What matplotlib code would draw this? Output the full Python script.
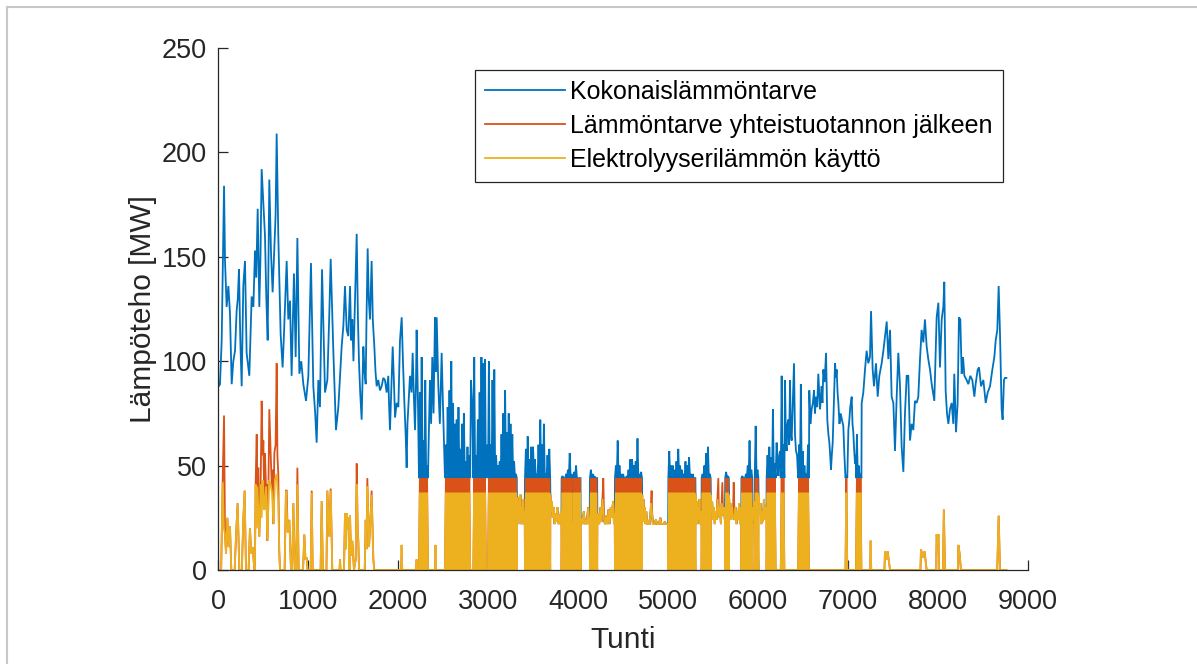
import matplotlib
matplotlib.use("Agg")
import matplotlib.pyplot as plt
from matplotlib.lines import Line2D

# värit (MATLABin oletusvärit)
sininen = "#0072BD"
oranssi = "#D95319"
keltainen = "#EDB120"

# --- kokonaislämmöntarve, (tunti, MW) luettu kuvasta ---
kok_talvi = [(0,91),(10,88),(22,89),(41,110),(55,150),(67,184),(78,148),(96,126),(115,136),(133,123),(152,89),
    (170,100),(189,105),(207,124),(220,130),(233,144),(248,110),(263,88),(281,136),(300,148),(318,104),(348,93),
    (360,110),(374,131),(393,126),(411,153),(425,140),(441,173),(459,126),(472,150),(485,192),(504,176),(522,160),
    (537,130),(552,110),(570,187),(589,152),(607,133),(626,155),(640,170),(652,209),(670,160),(696,113),(718,97),
    (733,113),(763,148),(781,120),(800,129),(818,93),(844,142),(863,102),(882,159),(904,94),(925,100),(948,89),
    (978,81),(1004,93),(1033,147),(1059,88),(1080,75),(1096,61),(1115,91),(1133,78),(1156,144),(1189,85),(1215,91),
    (1235,120),(1252,149),(1282,104),(1311,67),(1337,78),(1374,107),(1393,117),(1411,136),(1430,115),(1448,112),
    (1467,136),(1480,110),(1492,120),(1505,100),(1520,125),(1541,161),(1555,120),(1567,99),(1580,85),(1596,72),
    (1615,107),(1628,95),(1641,89),(1650,120),(1663,154),(1675,130),(1689,120),(1698,135),(1707,148),(1720,120),
    (1737,107),(1750,95),(1763,88),(1781,91),(1800,86),(1818,88),(1837,92),(1855,91),(1874,85),(1892,93),(1900,80),
    (1911,67),(1925,85),(1941,107),(1955,90),(1967,73),(1985,80),(2004,78),(2022,110),(2041,121),(2055,100),
    (2070,81),(2085,65),(2096,49),(2105,70),(2115,78),(2133,93),(2150,85),(2163,104),(2175,85),(2189,67),(2200,90),
    (2207,115),(2222,80)]

kok_kesa = [(2233,44),(2243,85),(2253,44),(2263,102),(2273,44),(2283,62),(2293,44),(2303,91),(2313,44),(2323,50),(2333,44),
    (2340,60),(2355,91),(2368,70),(2381,102),(2395,75),(2411,121),(2420,95),(2430,121),(2448,88),(2465,70),(2485,104),
    (2500,78),(2512,60),
    (2522,44),(2532,60),(2542,44),(2552,78),(2562,44),(2572,86),(2582,44),(2592,100),(2602,44),(2612,80),(2622,44),
    (2632,70),(2642,44),(2652,72),(2662,44),(2672,78),(2682,44),(2692,58),(2702,44),(2712,70),(2722,44),(2732,75),
    (2742,44),(2752,52),(2762,44),(2772,59),(2782,44),(2792,55),(2802,44),(2811,91),(2825,80),
    (2837,44),(2847,102),(2857,44),(2867,55),(2877,44),(2887,72),(2897,44),(2907,85),(2917,44),(2927,102),(2937,44),
    (2947,99),(2957,44),(2967,101),(2977,44),(2988,60),
    (3000,44),(3010,100),(3020,44),(3030,60),(3040,44),(3050,91),(3060,44),(3070,96),(3080,44),(3090,55),(3100,44),
    (3110,50),(3120,44),(3130,52),(3140,44),(3150,65),(3160,44),(3170,75),(3180,44),(3190,86),(3200,44),(3210,66),
    (3220,44),(3230,75),(3240,44),(3250,70),(3260,44),(3270,65),(3280,44),(3290,52),(3300,44),(3310,46),(3320,44),
    (3411,44),(3421,58),(3431,44),(3441,64),(3451,44),(3461,53),(3471,44),(3481,59),(3491,44),(3501,59),(3511,44),
    (3521,53),(3531,44),(3541,46),(3551,44),(3561,60),(3571,44),(3581,72),(3591,44),(3601,60),(3611,44),(3621,70),
    (3631,44),(3641,46),(3651,44),(3661,55),(3671,44),(3681,58),(3691,44),
    (3818,44),(3828,45),(3838,44),(3848,44),(3858,44),(3868,46),(3878,44),(3888,48),(3898,44),(3908,56),(3918,44),
    (3928,46),(3938,44),
    (3948,44),(3958,47),(3968,44),(3978,50),(3988,44),(3998,44),(4008,44),(4018,44),(4028,44),
    (4133,44),(4143,48),(4153,44),(4163,46),(4173,44),(4183,45),(4193,44),(4203,44),(4213,44),
    (4411,44),(4421,50),(4431,44),(4441,62),(4451,44),(4461,50),(4471,44),(4481,46),(4491,44),(4501,46),(4511,44),
    (4521,44),(4531,44),(4541,45),(4551,44),(4561,48),(4571,44),(4581,53),(4591,44),(4601,53),(4611,44),(4621,50),
    (4631,44),(4641,52),(4651,44),(4661,63),(4671,44),(4681,46),(4691,44),(4701,47),(4711,44),
    (5004,44),(5014,57),(5024,44),(5034,50),(5044,44),(5054,50),(5064,44),(5074,48),(5084,44),(5094,52),(5104,44),
    (5114,58),(5124,44),(5134,50),(5144,44),(5154,48),(5164,44),(5174,46),(5184,44),(5194,52),(5204,44),(5214,50),
    (5224,44),(5234,54),(5244,44),(5254,46),(5264,44),(5274,46),(5284,44),(5294,44),(5304,44),
    (5374,44),(5384,46),(5394,44),(5404,50),(5414,44),(5424,56),(5434,44),(5444,59),(5454,44),(5464,46),(5474,44),
    (5636,44),(5646,47),(5656,44),(5666,45),(5676,44),
    (5816,44),(5826,45),(5836,44),(5846,44),(5856,44),(5866,46),(5876,44),(5886,50),(5896,44),(5906,62),(5916,44),
    (5926,48),(5936,44),
    (5964,44),(5974,69),(5984,44),(5994,48),(6004,44),
    (6096,44),(6106,55),(6116,44),(6126,59),(6136,44),(6146,54),(6156,44),(6166,77),(6176,44),(6186,51),(6196,44),
    (6207,61),(6217,50),(6226,45),(6235,55),(6244,57),
    (6253,44),(6263,93),(6273,44),(6283,60),(6293,44),
    (6300,91),(6310,62),(6318,57),(6328,70),(6337,72),(6346,60),(6356,91),(6365,65),(6374,62),(6387,80),(6400,99),
    (6411,65),(6422,57),(6434,55),
    (6446,44),(6456,60),(6466,44),(6476,89),(6486,44),(6496,57),(6506,44),(6516,50),(6526,44),(6536,46),(6546,44),
    (6556,60),(6566,44),
    (6570,86),(6582,70),(6596,77),(6610,80),(6622,86),(6633,75),(6644,83),(6658,78),(6670,94),(6680,85),(6689,77),
    (6698,82),(6707,88),(6716,80),(6726,96),(6740,90),(6756,104),(6770,72),(6782,65),(6793,61),(6802,55),(6811,48),
    (6820,55),(6830,61),(6843,80),(6856,99),(6865,92),(6874,96),(6884,85),(6893,80),(6905,70),(6919,75),(6932,72),
    (6948,69),(6960,55),
    (6972,44),(6982,45),(6992,44),
    (7004,67),(7015,72),(7025,78),(7041,83),(7050,70),(7059,66),(7068,58),(7078,51),(7087,55),
    (7089,44),(7099,65),(7109,44),(7119,50),(7129,44),(7139,46),(7149,44)]

kok_syksy = [(7152,80),(7170,85),(7189,96),(7207,105),(7226,99),(7244,102),(7256,124),(7274,96),(7289,88),(7311,99),
    (7330,83),(7348,93),(7374,99),(7393,105),(7411,112),(7430,119),(7448,101),(7467,115),(7485,83),(7504,80),
    (7522,57),(7541,83),(7559,104),(7578,88),(7596,59),(7615,47),(7633,75),(7652,93),(7670,93),(7689,62),(7707,70),
    (7726,67),(7744,81),(7763,80),(7781,83),(7800,101),(7818,115),(7837,109),(7855,120),(7874,107),(7892,101),
    (7911,96),(7930,89),(7959,81),(7985,121),(8004,128),(8022,97),(8041,120),(8059,126),(8070,138),(8085,86),
    (8100,75),(8115,70),(8133,77),(8152,80),(8170,70),(8181,94),(8200,66),(8218,80),(8233,121),(8248,120),(8263,94),
    (8278,102),(8293,93),(8318,91),(8337,89),(8359,93),(8381,91),(8404,83),(8418,89),(8441,96),(8456,97),(8478,88),
    (8504,91),(8530,80),(8552,85),(8578,88),(8604,96),(8626,102),(8641,110),(8659,115),(8674,136),(8689,113),
    (8707,77),(8718,72),(8733,91),(8744,92),(8760,92)]

# kesän pohjataso (~22 MW), sama kaikissa sarjoissa
pohja = [(3322,22),(3328,35),(3336,22),(3344,33),(3352,24),(3360,36),(3368,22),(3376,30),(3384,22),(3392,34),(3400,22),
    (3408,28),
    (3693,36),(3700,28),(3710,33),(3720,25),(3730,30),(3740,22),(3750,27),(3760,23),(3770,30),(3780,22),(3790,26),
    (3800,22),(3810,28),(3816,22),(3943,22),
    (4030,22),(4040,25),(4050,22),(4065,28),(4075,22),(4090,24),(4100,22),(4112,30),(4122,22),(4130,25),
    (4215,22),(4225,27),(4235,22),(4250,30),(4260,23),(4272,34),(4290,24),(4300,22),(4315,26),(4325,22),(4340,29),
    (4350,22),(4365,30),(4375,25),(4390,33),(4400,22),(4408,27),
    (4713,36),(4718,24),(4726,34),(4734,23),(4742,30),(4750,22),(4758,28),(4766,22),(4774,24),(4782,22),(4795,22),
    (4805,26),(4812,32),(4825,26),(4832,22),(4850,22),(4865,24),(4880,22),(4900,22),(4915,25),(4925,22),(4950,22),
    (4965,23),(4980,22),(5002,22),
    (5306,36),(5312,26),(5318,33),(5326,22),(5334,30),(5342,24),(5350,34),(5358,22),(5366,28),(5372,22),
    (5476,36),(5482,28),(5490,33),(5500,24),(5510,30),(5520,22),(5530,28),(5540,24),(5550,34),(5566,25),(5578,30),
    (5588,22),(5596,32),(5612,26),(5622,30),(5632,24),
    (5678,36),(5684,28),(5692,32),(5702,24),(5712,30),(5722,26),(5740,24),(5750,30),(5760,22),(5770,28),(5780,24),
    (5790,32),(5800,22),(5810,30),(5814,22),
    (5938,22),(5944,30),(5952,24),(5960,33),(5962,22),
    (6006,36),(6016,26),(6026,32),(6036,22),(6046,28),(6056,23),(6066,34),(6076,24),(6086,30),(6094,26)]

# --- lämmöntarve yhteistuotannon jälkeen ---
jalk_talvi = [(0,0),(35,0),(52,43),(60,60),(67,74),(72,45),(78,17),(89,8),(104,25),(118,11),(133,21),(148,0),
    (185,0),(200,16),(218,32),(237,0),(265,0),(281,24),(296,38),(311,0),(340,0),(355,20),(370,8),(385,11),(404,0),
    (410,0),(418,41),(430,65),(437,40),(448,49),(459,16),(474,41),(485,81),(496,55),(504,62),(515,29),(522,56),
    (533,40),(541,41),(548,14),(558,30),(570,77),(585,56),(600,37),(607,48),(615,22),(626,56),(640,60),(652,99),
    (660,55),(670,46),(680,10),(689,0),
    (740,0),(755,38),(763,38),(774,18),(793,24),(811,0),(825,0),(837,32),(855,0),(870,0),(882,49),(896,0),
    (945,0),(959,17),(972,5),(985,6),(995,0),(1030,0),(1041,38),(1052,0),(1140,0),(1152,33),(1165,0),
    (1205,0),(1215,38),(1237,16),(1252,39),(1270,0),(1350,0),(1356,5),(1362,0),
    (1400,0),(1411,27),(1422,10),(1430,27),(1441,20),(1452,25),(1460,0),(1467,26),(1478,7),(1492,14),(1511,0),
    (1530,5),(1541,51),(1552,20),(1559,14),(1567,0),
    (1630,0),(1641,24),(1650,10),(1659,44),(1670,25),(1678,11),(1690,20),(1707,38),(1726,5),(1737,0),
    (2035,0),(2041,12),(2047,0),(2200,0),(2207,5),(2214,0)]

jalk_kesa = [(2233,0),(2243,44),(2253,0),(2263,44),(2273,0),(2283,44),(2293,0),(2303,44),(2313,0),(2323,44),(2333,0),
    (2412,0),(2418,12),(2424,0),
    (2522,0),(2532,44),(2542,0),(2552,44),(2562,0),(2572,44),(2582,0),(2592,44),(2602,0),(2612,44),(2622,0),
    (2632,44),(2642,0),(2652,44),(2662,0),(2672,44),(2682,0),(2692,44),(2702,0),(2712,44),(2722,0),(2732,44),
    (2742,0),(2752,44),(2762,0),(2772,44),(2782,0),(2792,44),(2802,0),
    (2837,0),(2847,44),(2857,0),(2867,44),(2877,0),(2887,44),(2897,0),(2907,44),(2917,0),(2927,44),(2937,0),
    (2947,44),(2957,0),(2967,44),(2977,0),
    (3000,0),(3010,44),(3020,0),(3030,44),(3040,0),(3050,44),(3060,0),(3070,44),(3080,0),(3090,44),(3100,0),
    (3110,44),(3120,0),(3130,44),(3140,0),(3150,44),(3160,0),(3170,44),(3180,0),(3190,44),(3200,0),(3210,44),
    (3220,0),(3230,44),(3240,0),(3250,44),(3260,0),(3270,44),(3280,0),(3290,44),(3300,0),(3310,44),(3320,0),
    (3411,0),(3421,44),(3431,0),(3441,44),(3451,0),(3461,44),(3471,0),(3481,44),(3491,0),(3501,44),(3511,0),
    (3521,44),(3531,0),(3541,44),(3551,0),(3561,44),(3571,0),(3581,44),(3591,0),(3601,44),(3611,0),(3621,44),
    (3631,0),(3641,44),(3651,0),(3661,44),(3671,0),(3681,44),(3691,0),
    (3818,0),(3828,44),(3838,0),(3848,44),(3858,0),(3868,44),(3878,0),(3888,44),(3898,0),(3908,44),(3918,0),
    (3928,44),(3938,0),
    (3948,0),(3958,44),(3968,0),(3978,44),(3988,0),(3998,44),(4008,0),(4018,44),(4028,0),
    (4133,0),(4143,44),(4153,0),(4163,44),(4173,0),(4183,44),(4193,0),(4203,44),(4213,0),
    (4411,0),(4421,44),(4431,0),(4441,44),(4451,0),(4461,44),(4471,0),(4481,44),(4491,0),(4501,44),(4511,0),
    (4521,44),(4531,0),(4541,44),(4551,0),(4561,44),(4571,0),(4581,44),(4591,0),(4601,44),(4611,0),(4621,44),
    (4631,0),(4641,44),(4651,0),(4661,44),(4671,0),(4681,44),(4691,0),(4701,44),(4711,0),
    (5004,0),(5014,44),(5024,0),(5034,44),(5044,0),(5054,44),(5064,0),(5074,44),(5084,0),(5094,44),(5104,0),
    (5114,44),(5124,0),(5134,44),(5144,0),(5154,44),(5164,0),(5174,44),(5184,0),(5194,44),(5204,0),(5214,44),
    (5224,0),(5234,44),(5244,0),(5254,44),(5264,0),(5274,44),(5284,0),(5294,44),(5304,0),
    (5374,0),(5384,44),(5394,0),(5404,44),(5414,0),(5424,44),(5434,0),(5444,44),(5454,0),(5464,44),(5474,0),
    (5636,0),(5646,44),(5656,0),(5666,44),(5676,0),
    (5816,0),(5826,44),(5836,0),(5846,44),(5856,0),(5866,44),(5876,0),(5886,44),(5896,0),(5906,44),(5916,0),
    (5926,44),(5936,0),
    (5964,0),(5974,44),(5984,0),(5994,44),(6004,0),
    (6096,0),(6106,44),(6116,0),(6126,44),(6136,0),(6146,44),(6156,0),(6166,44),(6176,0),(6186,44),(6196,0),
    (6253,0),(6263,44),(6273,0),(6283,44),(6293,0),
    (6446,0),(6456,44),(6466,0),(6476,44),(6486,0),(6496,44),(6506,0),(6516,44),(6526,0),(6536,44),(6546,0),
    (6556,44),(6566,0),
    (6972,0),(6982,44),(6992,0),
    (7089,0),(7099,44),(7109,0),(7119,44),(7129,0),(7139,44),(7149,0)]

jalk_piikit = [(4281,44),(4818,38),(5559,44),(5604,42),(5730,42)]

# --- elektrolyyserilämmön käyttö ---
ely_talvi = [(0,0),(35,0),(52,42),(65,20),(78,17),(89,8),(104,25),(118,11),(133,21),(148,0),
    (185,0),(200,16),(218,32),(237,0),(265,0),(281,24),(296,38),(311,0),(340,0),(355,20),(370,8),(385,11),(404,0),
    (410,0),(418,41),(428,20),(437,40),(448,28),(459,16),(474,41),(485,25),(496,43),(505,35),(515,29),(533,40),
    (548,14),(558,30),(567,43),(585,41),(600,37),(615,22),(633,43),(652,46),(670,32),(680,10),(689,0),
    (740,0),(755,38),(774,18),(793,24),(811,0),(825,0),(837,32),(855,0),(870,0),(882,41),(896,0),
    (945,0),(959,17),(972,5),(985,6),(995,0),(1030,0),(1041,37),(1052,0),(1140,0),(1152,33),(1165,0),
    (1205,0),(1215,38),(1237,16),(1252,38),(1270,0),(1350,0),(1356,5),(1362,0),
    (1400,0),(1411,27),(1422,10),(1430,27),(1441,20),(1452,25),(1460,0),(1467,26),(1478,7),(1492,14),(1511,0),
    (1530,5),(1541,41),(1552,20),(1559,14),(1567,0),
    (1630,0),(1641,24),(1650,10),(1659,40),(1670,25),(1678,11),(1690,20),(1707,36),(1726,5),(1737,0),
    (2035,0),(2041,12),(2047,0),(2200,0),(2207,5),(2214,0)]

ely_kesa = [(2233,0),(2243,37),(2253,0),(2263,37),(2273,0),(2283,37),(2293,0),(2303,37),(2313,0),(2323,37),(2333,0),
    (2412,0),(2418,12),(2424,0),
    (2522,0),(2532,37),(2542,0),(2552,37),(2562,0),(2572,37),(2582,0),(2592,37),(2602,0),(2612,37),(2622,0),
    (2632,37),(2642,0),(2652,37),(2662,0),(2672,37),(2682,0),(2692,37),(2702,0),(2712,37),(2722,0),(2732,37),
    (2742,0),(2752,37),(2762,0),(2772,37),(2782,0),(2792,37),(2802,0),
    (2837,0),(2847,37),(2857,0),(2867,37),(2877,0),(2887,37),(2897,0),(2907,37),(2917,0),(2927,37),(2937,0),
    (2947,37),(2957,0),(2967,37),(2977,0),
    (3000,0),(3010,37),(3020,0),(3030,37),(3040,0),(3050,37),(3060,0),(3070,37),(3080,0),(3090,37),(3100,0),
    (3110,37),(3120,0),(3130,37),(3140,0),(3150,37),(3160,0),(3170,37),(3180,0),(3190,37),(3200,0),(3210,37),
    (3220,0),(3230,37),(3240,0),(3250,37),(3260,0),(3270,37),(3280,0),(3290,37),(3300,0),(3310,37),(3320,0),
    (3411,0),(3421,37),(3431,0),(3441,37),(3451,0),(3461,37),(3471,0),(3481,37),(3491,0),(3501,37),(3511,0),
    (3521,37),(3531,0),(3541,37),(3551,0),(3561,37),(3571,0),(3581,37),(3591,0),(3601,37),(3611,0),(3621,37),
    (3631,0),(3641,37),(3651,0),(3661,37),(3671,0),(3681,37),(3691,0),
    (3818,0),(3828,37),(3838,0),(3848,37),(3858,0),(3868,37),(3878,0),(3888,37),(3898,0),(3908,37),(3918,0),
    (3928,37),(3938,0),
    (3948,0),(3958,37),(3968,0),(3978,37),(3988,0),(3998,37),(4008,0),(4018,37),(4028,0),
    (4133,0),(4143,37),(4153,0),(4163,37),(4173,0),(4183,37),(4193,0),(4203,37),(4213,0),
    (4411,0),(4421,37),(4431,0),(4441,37),(4451,0),(4461,37),(4471,0),(4481,37),(4491,0),(4501,37),(4511,0),
    (4521,37),(4531,0),(4541,37),(4551,0),(4561,37),(4571,0),(4581,37),(4591,0),(4601,37),(4611,0),(4621,37),
    (4631,0),(4641,37),(4651,0),(4661,37),(4671,0),(4681,37),(4691,0),(4701,37),(4711,0),
    (5004,0),(5014,37),(5024,0),(5034,37),(5044,0),(5054,37),(5064,0),(5074,37),(5084,0),(5094,37),(5104,0),
    (5114,37),(5124,0),(5134,37),(5144,0),(5154,37),(5164,0),(5174,37),(5184,0),(5194,37),(5204,0),(5214,37),
    (5224,0),(5234,37),(5244,0),(5254,37),(5264,0),(5274,37),(5284,0),(5294,37),(5304,0),
    (5374,0),(5384,37),(5394,0),(5404,37),(5414,0),(5424,37),(5434,0),(5444,37),(5454,0),(5464,37),(5474,0),
    (5636,0),(5646,37),(5656,0),(5666,37),(5676,0),
    (5816,0),(5826,37),(5836,0),(5846,37),(5856,0),(5866,37),(5876,0),(5886,37),(5896,0),(5906,37),(5916,0),
    (5926,37),(5936,0),
    (5964,0),(5974,37),(5984,0),(5994,37),(6004,0),
    (6096,0),(6106,37),(6116,0),(6126,37),(6136,0),(6146,37),(6156,0),(6166,37),(6176,0),(6186,37),(6196,0),
    (6253,0),(6263,37),(6273,0),(6283,37),(6293,0),
    (6446,0),(6456,37),(6466,0),(6476,37),(6486,0),(6496,37),(6506,0),(6516,37),(6526,0),(6536,37),(6546,0),
    (6556,37),(6566,0),
    (6972,0),(6982,37),(6992,0),
    (7089,0),(7099,37),(7109,0),(7119,37),(7129,0),(7139,37),(7149,0)]

# syksyn pienet piikit (sama keltaiselle ja oranssille)
syksy_piikit = [(7246,0),(7252,14),(7258,0),(7405,0),(7411,9),(7425,5),(7440,9),(7455,4),(7467,0),(7805,0),(7811,10),
    (7830,6),(7850,9),(7874,0),(7980,0),(7985,17),(7995,12),(8005,17),(8011,0),(8055,0),(8065,29),(8078,0),
    (8220,0),(8226,12),(8240,8),(8255,0),(8658,0),(8674,26),(8689,0),(8760,0)]

legendat = ["Kokonaislämmöntarve", "Lämmöntarve yhteistuotannon jälkeen", "Elektrolyyserilämmön käyttö"]

# yhdistetään osat aikajärjestykseen
kokonais = sorted(kok_talvi + kok_kesa + pohja + kok_syksy)
jalkeen = sorted(jalk_talvi + jalk_kesa + pohja + jalk_piikit + syksy_piikit)
elyl = sorted(ely_talvi + ely_kesa + pohja + syksy_piikit)

plt.rcParams["font.family"] = ["Liberation Sans", "DejaVu Sans"]

fig = plt.figure(figsize=(11.97, 6.64), dpi=100)
ax = fig.add_axes([218 / 1197, 1 - 570 / 664, 810 / 1197, 522 / 664])

lw = 1.3
for pisteet, vari, nimi in [(kokonais, sininen, legendat[0]), (jalkeen, oranssi, legendat[1]), (elyl, keltainen, legendat[2])]:
    t, v = zip(*pisteet)
    ax.plot(t, v, color=vari, lw=lw, label=nimi, solid_joinstyle="miter")

ax.set_xlim(0, 9000)
ax.set_ylim(0, 250)
ax.set_xticks(range(0, 9001, 1000))
ax.set_yticks(range(0, 251, 50))

tumma = "#262626"
for s in ["top", "right"]:
    ax.spines[s].set_visible(False)
for s in ["left", "bottom"]:
    ax.spines[s].set_color(tumma)
    ax.spines[s].set_linewidth(0.9)
ax.tick_params(direction="in", length=7, width=0.9, color=tumma, labelcolor=tumma, labelsize=19.5)
ax.tick_params(axis="x", pad=13.5)
ax.tick_params(axis="y", pad=8)

ax.set_xlabel("Tunti", fontsize=21.5, color=tumma, labelpad=8)
ax.set_ylabel("Lämpöteho [MW]", fontsize=21.5, color=tumma, labelpad=3.5)

leg = ax.legend(loc="upper right", bbox_to_anchor=(0.969, 0.958), borderaxespad=0, fontsize=18,
                handlelength=3.2, handletextpad=0.2, labelspacing=0.4, borderpad=0.4,
                fancybox=False, framealpha=1, edgecolor=tumma)
leg.get_frame().set_linewidth(0.9)

# kehys kuvan ympärillä
fig.add_artist(Line2D([6.5 / 1197, 1], [1 - 6.5 / 664, 1 - 6.5 / 664], color="#c8c8c8", lw=1.5, transform=fig.transFigure))
fig.add_artist(Line2D([6.5 / 1197, 6.5 / 1197], [0, 1 - 6.5 / 664], color="#c8c8c8", lw=1.5, transform=fig.transFigure))

fig.savefig("out.png", dpi=100)
